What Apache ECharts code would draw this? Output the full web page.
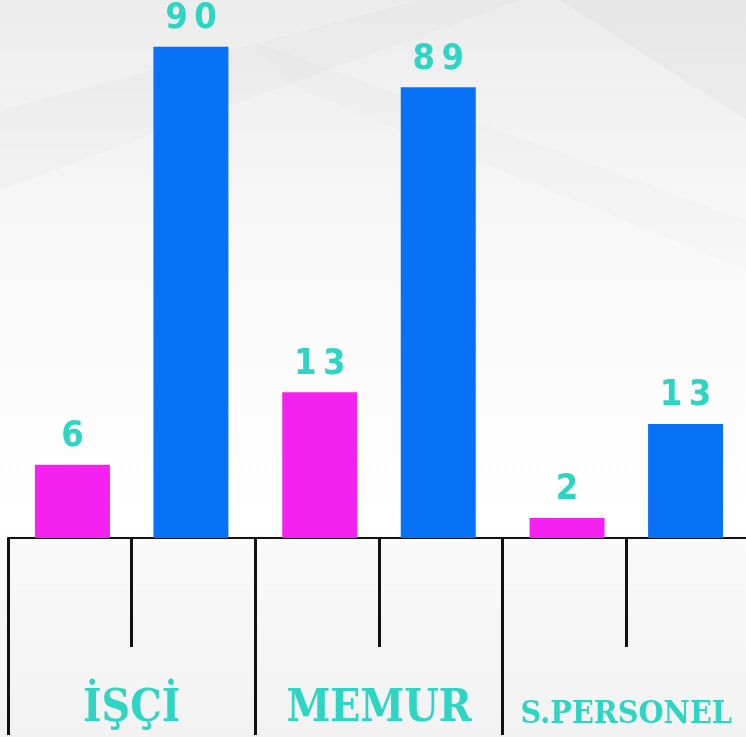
<!DOCTYPE html>
<html>
<head>
<meta charset="utf-8">
<script src="https://cdn.jsdelivr.net/npm/echarts@6/dist/echarts.min.js"></script>
<style>
  html, body { margin: 0; padding: 0; }
  #chart { width: 746px; height: 737px; }
</style>
</head>
<body>
<div id="chart"></div>
<script>
  var CATEGORIES = ['İŞÇİ', 'MEMUR', 'S.PERSONEL'];
  // numbers printed above the bars
  var PINK_LABELS = [6, 13, 2];
  var BLUE_LABELS = [90, 89, 13];
  // bar heights as drawn in the picture (percent of plot height, not to scale with labels)
  var PINK_HEIGHTS = [13.6, 27.1, 3.7];
  var BLUE_HEIGHTS = [91.3, 83.8, 21.2];

  var PINK = '#f521f0';
  var BLUE = '#0872f6';
  var TEAL = '#2ed5c2';
  var NUM_FONT = '"DejaVu Sans Condensed", sans-serif';
  var CAT_FONT = '"DejaVu Serif Condensed", "DejaVu Serif", serif';

  var chart = echarts.init(document.getElementById('chart'));

  function valueLabel(labels) {
    return {
      show: true,
      position: 'top',
      distance: 10,
      color: TEAL,
      fontFamily: NUM_FONT,
      fontWeight: 'bold',
      fontSize: 36,
      formatter: function (p) { return String(labels[p.dataIndex]).split('').join('\u2009'); }
    };
  }

  chart.setOption({
    backgroundColor: new echarts.graphic.LinearGradient(0, 0, 0, 1, [
      { offset: 0, color: '#ececec' },
      { offset: 0.35, color: '#f9f9f9' },
      { offset: 0.72, color: '#ffffff' },
      { offset: 0.74, color: '#f9f9f9' },
      { offset: 1, color: '#f2f2f2' }
    ]),
    animation: false,
    graphic: [
      { type: 'polygon', silent: true, z: -1,
        shape: { points: [[0, 110], [420, 0], [520, 0], [0, 190]] },
        style: { fill: 'rgba(0,0,0,0.015)' } },
      { type: 'polygon', silent: true, z: -1,
        shape: { points: [[560, 0], [746, 0], [746, 120]] },
        style: { fill: 'rgba(0,0,0,0.022)' } },
      { type: 'polygon', silent: true, z: -1,
        shape: { points: [[250, 40], [746, 220], [746, 270], [300, 90]] },
        style: { fill: 'rgba(0,0,0,0.01)' } }
    ],
    grid: { left: 8, width: 742, top: 0, bottom: 199, containLabel: false, outerBoundsMode: 'none' },
    xAxis: [{
      type: 'category',
      data: CATEGORIES,
      axisLine: { lineStyle: { color: '#111', width: 2 } },
      axisTick: { show: true, length: 197, lineStyle: { color: '#111', width: 3 } },
      axisLabel: {
        margin: 147,
        interval: 0,
        formatter: function (v, i) {
          return i === 2 ? '{s|' + v + '}' : '{b|' + v + '}';
        },
        rich: {
          b: { fontFamily: CAT_FONT, fontWeight: 'bold', fontSize: 44, color: TEAL, lineHeight: 50 },
          s: { fontFamily: CAT_FONT, fontWeight: 'bold', fontSize: 32, color: TEAL, lineHeight: 50, padding: [10, 0, 0, 0] }
        }
      }
    }, {
      type: 'category',
      data: CATEGORIES,
      position: 'bottom',
      axisLine: { show: false },
      axisTick: { show: true, alignWithLabel: true, length: 109, lineStyle: { color: '#111', width: 3 } },
      axisLabel: { show: false }
    }],
    yAxis: {
      type: 'value',
      min: 0,
      max: 100,
      show: false
    },
    series: [{
      type: 'bar',
      data: PINK_HEIGHTS,
      barWidth: 75,
      barGap: '58%',
      itemStyle: { color: PINK },
      label: valueLabel(PINK_LABELS)
    }, {
      type: 'bar',
      data: BLUE_HEIGHTS,
      barWidth: 75,
      barGap: '58%',
      itemStyle: { color: BLUE },
      label: valueLabel(BLUE_LABELS)
    }]
  });
</script>
</body>
</html>
